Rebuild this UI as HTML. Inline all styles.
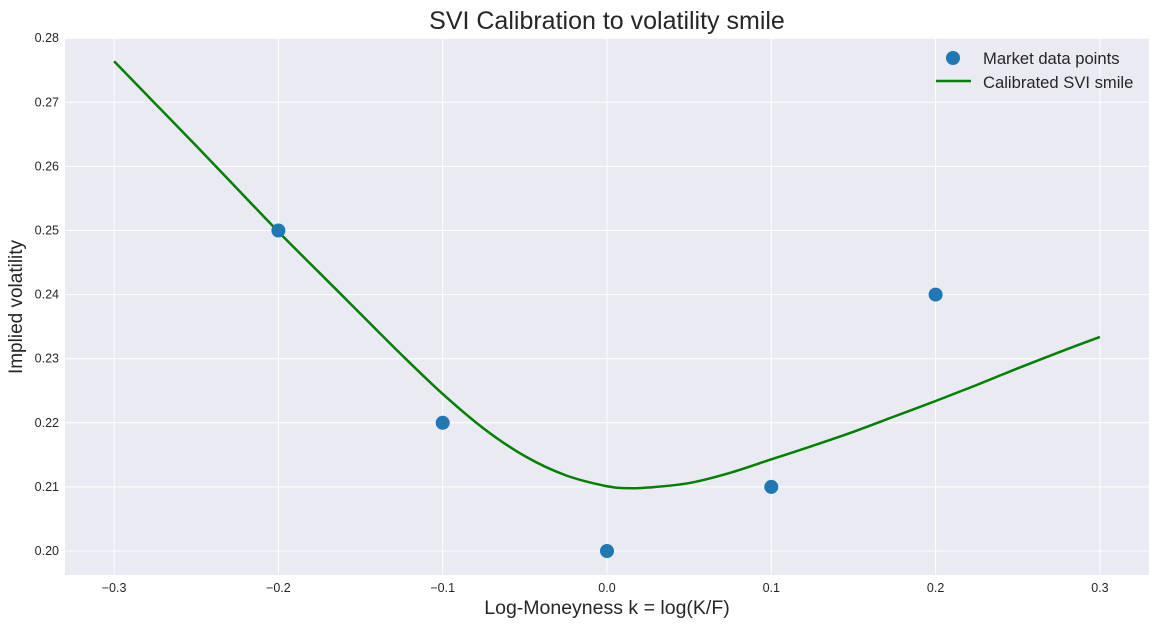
<!DOCTYPE html>
<html><head><meta charset="utf-8"><style>
body{margin:0;background:#fff;font-family:"Liberation Sans",sans-serif;}
svg text{font-family:"Liberation Sans",sans-serif;fill:#262626;}
</style></head><body>
<svg id="chart" width="1159" height="627">
<text x="607" y="29" font-size="25" text-anchor="middle">SVI Calibration to volatility smile</text>
<rect x="65" y="38" width="1084" height="537" fill="#eaeaf2"/>
<g id="grid"></g><g id="ticks"></g><g id="marks"></g>
<text x="607" y="614" font-size="19.5" text-anchor="middle">Log-Moneyness k = log(K/F)</text>
<text transform="translate(22,307) rotate(-90)" font-size="19" text-anchor="middle">Implied volatility</text>
<g>
<circle cx="953" cy="58" r="7" fill="#1f77b4"/>
<text x="983" y="64" font-size="16.6">Market data points</text>
<line x1="936" y1="81" x2="971" y2="81" stroke="#008000" stroke-width="2.5"/>
<text x="983" y="88" font-size="16.6">Calibrated SVI smile</text>
</g>
</svg>
<script>
const xTicks=[-0.3,-0.2,-0.1,0.0,0.1,0.2,0.3];
const yTicks=[0.20,0.21,0.22,0.23,0.24,0.25,0.26,0.27,0.28];
const marketK=[-0.2,-0.1,0.0,0.1,0.2];
const marketVol=[0.25,0.22,0.20,0.21,0.24];
const curveK=[-0.3,-0.275,-0.25,-0.225,-0.2,-0.175,-0.15,-0.125,-0.1,-0.075,-0.05,-0.025,0,0.0125,0.025,0.05,0.075,0.1,0.125,0.15,0.175,0.2,0.225,0.25,0.275,0.3];
const curveVol=[0.2764,0.2698,0.2632,0.2565,0.2498,0.2434,0.2370,0.2306,0.2245,0.2191,0.2148,0.2118,0.2101,0.2098,0.2099,0.2106,0.2122,0.2143,0.2164,0.2186,0.2210,0.2234,0.2259,0.2285,0.2310,0.2334];
const ns="http://www.w3.org/2000/svg";
const X=k=>607+k*1643;
const Y=v=>551-(v-0.20)*6410;
function mk(tag,attrs,parent,txt){const e=document.createElementNS(ns,tag);for(const a in attrs)e.setAttribute(a,attrs[a]);if(txt!==undefined)e.textContent=txt;document.getElementById(parent).appendChild(e);return e;}
xTicks.forEach(t=>{
 const l=mk('line',{x1:X(t),x2:X(t),y1:38,y2:575,stroke:'#fff','stroke-width':1},'grid');
 
 
 const s=mk('text',{x:X(t),y:592,'font-size':12.5,'text-anchor':'middle'},'ticks',(t<0?'\u2212':'')+Math.abs(t).toFixed(1));
 
 
});
yTicks.forEach(t=>{
 const l=mk('line',{x1:65,x2:1149,y1:Y(t),y2:Y(t),stroke:'#fff','stroke-width':1},'grid');
 
 
 const s=mk('text',{x:59,y:Y(t)+4,'font-size':12.5,'text-anchor':'end'},'ticks',t.toFixed(2));
 
 
});
const P=curveK.map((k,i)=>[X(k),Y(curveVol[i])]);
let d='M'+P[0][0]+','+P[0][1];
for(let i=0;i<P.length-1;i++){const p0=P[i-1]||P[i],p1=P[i],p2=P[i+1],p3=P[i+2]||P[i+1];
 d+=' C'+(p1[0]+(p2[0]-p0[0])/6)+','+(p1[1]+(p2[1]-p0[1])/6)+' '+(p2[0]-(p3[0]-p1[0])/6)+','+(p2[1]-(p3[1]-p1[1])/6)+' '+p2[0]+','+p2[1];}
const path=mk('path',{d:d,fill:'none',stroke:'#008000','stroke-width':2.5},'marks');


marketK.forEach((k,i)=>{
 const c=mk('circle',{cx:X(k),cy:Y(marketVol[i]),r:7,fill:'#1f77b4'},'marks');
 
 
});
</script>
</body></html>
